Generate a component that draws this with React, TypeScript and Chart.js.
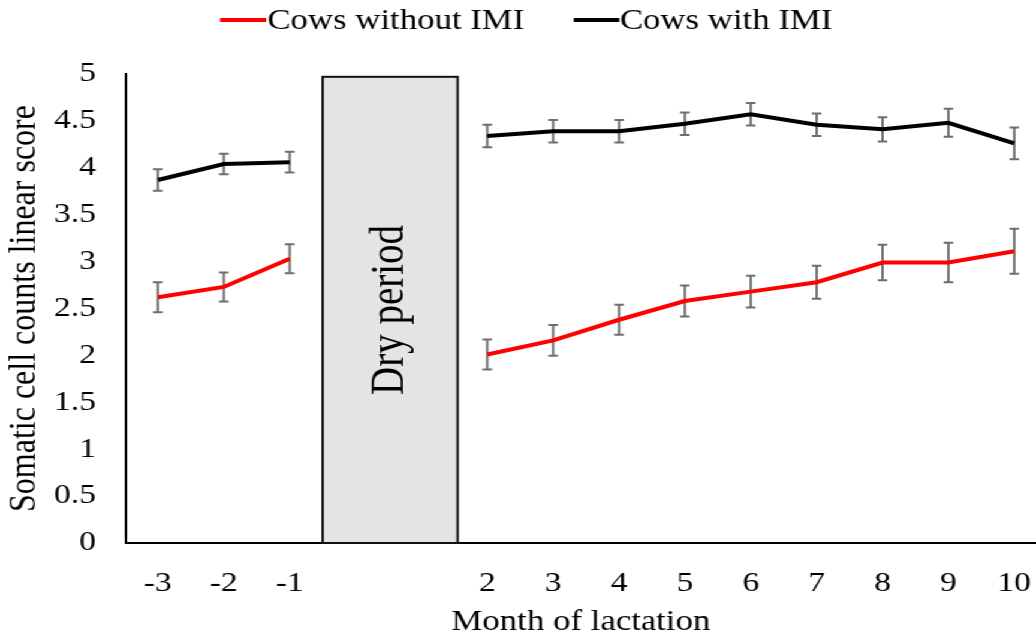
import React, { useEffect, useRef } from 'react';
import { Chart, registerables } from 'chart.js';

Chart.register(...registerables);

// ---- data ----
const months = [-3, -2, -1, 2, 3, 4, 5, 6, 7, 8, 9, 10];
const withoutIMI = [2.62, 2.73, 3.03, 2.01, 2.16, 2.38, 2.58, 2.68, 2.78, 2.99, 2.99, 3.11];
const withoutIMIErr = [0.16, 0.155, 0.155, 0.16, 0.165, 0.16, 0.165, 0.17, 0.175, 0.19, 0.21, 0.24];
const withIMI = [3.87, 4.04, 4.06, 4.34, 4.39, 4.39, 4.47, 4.57, 4.46, 4.41, 4.48, 4.26];
const withIMIErr = [0.115, 0.11, 0.11, 0.12, 0.12, 0.12, 0.12, 0.12, 0.12, 0.13, 0.15, 0.17];
const seriesNames = ['Cows without IMI', 'Cows with IMI'];
const seriesColors = ['#ff0000', '#000000'];
const yTickValues = [0, 0.5, 1, 1.5, 2, 2.5, 3, 3.5, 4, 4.5, 5];
const dryPeriodRange = [-0.5, 1.55];
const dryPeriodTop = 4.97;
const dryPeriodLabel = 'Dry period';
const xTitle = 'Month of lactation';
const yTitle = 'Somatic cell counts linear score';

// ---- layout ----
const W = 864;
const H = 637;
const SX = 1036 / W;
const FONT = '"Liberation Serif", "Times New Roman", serif';

function buildPoints(vals: number[]) {
  const pts: { x: number; y: number | null }[] = [];
  months.forEach((m, i) => {
    if (i > 0 && m - months[i - 1] > 1) pts.push({ x: (m + months[i - 1]) / 2, y: null });
    pts.push({ x: m, y: vals[i] });
  });
  return pts;
}

const errorSets = [withoutIMIErr, withIMIErr];
const valueSets = [withoutIMI, withIMI];

const backgroundPlugin = {
  id: 'dryAndErrors',
  beforeDatasetsDraw(chart: any) {
    const { ctx, scales } = chart;
    const xs = scales.x;
    const ys = scales.y;
    // dry period box
    const x0 = xs.getPixelForValue(dryPeriodRange[0]);
    const x1 = xs.getPixelForValue(dryPeriodRange[1]);
    const y0 = ys.getPixelForValue(0);
    const y1 = ys.getPixelForValue(dryPeriodTop);
    ctx.save();
    ctx.fillStyle = '#e4e4e4';
    ctx.fillRect(x0, y1, x1 - x0, y0 - y1);
    ctx.strokeStyle = '#111';
    ctx.lineWidth = 2;
    ctx.strokeRect(x0, y1, x1 - x0, y0 - y1);
    ctx.translate((x0 + x1) / 2, ys.getPixelForValue(dryPeriodTop / 2));
    ctx.rotate(-Math.PI / 2);
    ctx.fillStyle = '#000';
    ctx.font = `39px ${FONT}`;
    ctx.textAlign = 'center';
    ctx.textBaseline = 'middle';
    ctx.fillText(dryPeriodLabel, 0, 0);
    ctx.restore();

    // error bars
    ctx.save();
    ctx.strokeStyle = '#6e6e6e';
    ctx.lineWidth = 2;
    valueSets.forEach((vals, si) => {
      vals.forEach((v, i) => {
        const e = errorSets[si][i];
        const px = xs.getPixelForValue(months[i]);
        const pt = ys.getPixelForValue(v + e);
        const pb = ys.getPixelForValue(v - e);
        ctx.beginPath();
        ctx.moveTo(px, pt);
        ctx.lineTo(px, pb);
        ctx.moveTo(px - 4, pt);
        ctx.lineTo(px + 4, pt);
        ctx.moveTo(px - 4, pb);
        ctx.lineTo(px + 4, pb);
        ctx.stroke();
      });
    });
    ctx.restore();
  },
  afterDraw(chart: any) {
    const { ctx } = chart;
    const items = [
      { x0: 183.5, x1: 222, tx: 223 },
      { x0: 478.5, x1: 516.5, tx: 517 },
    ];
    ctx.save();
    ctx.font = `29px ${FONT}`;
    ctx.textBaseline = 'middle';
    ctx.textAlign = 'left';
    items.forEach((it, i) => {
      ctx.strokeStyle = seriesColors[i];
      ctx.lineWidth = 4;
      ctx.beginPath();
      ctx.moveTo(it.x0, 20);
      ctx.lineTo(it.x1, 20);
      ctx.stroke();
      ctx.fillStyle = '#000';
      ctx.fillText(seriesNames[i], it.tx, 21);
    });
    ctx.restore();
  },
};

export default function App() {
  const ref = useRef<HTMLCanvasElement>(null);
  useEffect(() => {
    const chart = new Chart(ref.current as HTMLCanvasElement, {
      type: 'line',
      data: {
        datasets: valueSets.map((vals, i) => ({
          label: seriesNames[i],
          data: buildPoints(vals) as any,
          borderColor: seriesColors[i],
          backgroundColor: seriesColors[i],
          borderWidth: 4,
          pointRadius: 0,
          tension: 0,
          spanGaps: false,
        })),
      },
      options: {
        animation: false,
        responsive: false,
        devicePixelRatio: 1,
        layout: { padding: { top: 74, left: 0, right: 0, bottom: 0 } },
        plugins: { legend: { display: false }, tooltip: { enabled: false } },
        scales: {
          x: {
            type: 'linear',
            min: -3.486,
            max: 10.33,
            grid: { display: false, drawTicks: false },
            border: { display: true, color: '#000', width: 2 },
            afterBuildTicks: (scale: any) => {
              scale.ticks = months.map((m) => ({ value: m }));
            },
            afterFit: (scale: any) => {
              scale.height = 94;
            },
            ticks: {
              color: '#000',
              padding: 0,
              autoSkip: false,
              maxRotation: 0,
              font: { family: FONT, size: 28, lineHeight: 2.9 },
              callback: (v: any) => String(v),
            },
            title: {
              display: true,
              text: xTitle,
              color: '#000',
              padding: { top: 0, bottom: 0 },
              font: { family: FONT, size: 29, lineHeight: 1 },
            },
          },
          y: {
            type: 'linear',
            min: 0,
            max: 5,
            grid: { display: false, drawTicks: false },
            border: { display: true, color: '#000', width: 2 },
            afterBuildTicks: (scale: any) => {
              scale.ticks = yTickValues.map((v) => ({ value: v }));
            },
            afterFit: (scale: any) => {
              scale.width = 105;
            },
            ticks: {
              color: '#000',
              padding: 25,
              font: { family: FONT, size: 28 },
              callback: (v: any) => String(v),
            },
            title: {
              display: true,
              text: yTitle,
              color: '#000',
              padding: { top: 3, bottom: 0 },
              font: { family: FONT, size: 32, lineHeight: 1.1 },
            },
          },
        },
      },
      plugins: [backgroundPlugin],
    } as any);
    return () => chart.destroy();
  }, []);
  return (
    <div
      style={{
        position: 'absolute',
        left: 0,
        top: 0,
        width: W,
        height: H,
        transform: `scaleX(${SX})`,
        transformOrigin: '0 0',
        background: '#fff',
      }}
    >
      <canvas ref={ref} width={W} height={H} style={{ display: 'block' }} />
    </div>
  );
}
